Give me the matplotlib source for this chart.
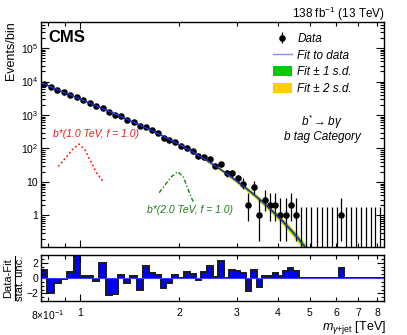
import numpy as np
import matplotlib
matplotlib.use("Agg")
import matplotlib.pyplot as plt
from matplotlib.lines import Line2D
from matplotlib.patches import Patch
from matplotlib.ticker import LogLocator, NullFormatter, MultipleLocator

plt.rcParams['font.family'] = ['Liberation Sans', 'DejaVu Sans']
plt.rcParams['mathtext.fontset'] = 'custom'
plt.rcParams['mathtext.rm'] = 'Liberation Sans'
plt.rcParams['mathtext.it'] = 'Liberation Sans:italic'
plt.rcParams['mathtext.bf'] = 'Liberation Sans:bold'

# bin edges in TeV
edges = [0.760, 0.796, 0.834, 0.873, 0.914, 0.957, 1.001, 1.047, 1.095, 1.145,
         1.197, 1.250, 1.306, 1.364, 1.424, 1.486, 1.550, 1.617, 1.686, 1.758,
         1.832, 1.909, 1.989, 2.072, 2.157, 2.245, 2.337, 2.432, 2.530, 2.631,
         2.736, 2.844, 2.956, 3.072, 3.191, 3.315, 3.442, 3.574, 3.710, 3.850,
         3.995, 4.144, 4.298, 4.457, 4.621, 4.790, 4.965, 5.145, 5.330, 5.521,
         5.718, 5.921, 6.130, 6.345, 6.567, 6.795, 7.030, 7.272, 7.521, 7.777,
         8.041, 8.312, 8.591]

# events per bin
counts = [8441, 6772, 5712, 4775, 4020, 3462, 2751, 2280, 1866, 1644,
          1226, 1015, 910, 723, 618, 471, 450, 356, 288, 209,
          177, 156, 122, 105, 83, 61, 55, 49, 31, 34,
          18, 18, 13, 9, 2, 7, 1, 3, 2, 2,
          1, 1, 2, 1, 0, 0, 0, 0, 0, 0,
          0, 0, 1, 0, 0, 0, 0, 0, 0, 0,
          0, 0]

# (data-fit)/stat. unc.
pulls = [1.0, -1.9, -0.7, -0.15, 0.8, 3.0, 0.3, 0.2, -0.45, 2.0,
         -2.2, -2.1, 0.4, -0.7, 0.2, -1.55, 1.6, 0.7, 0.4, -1.3,
         -0.7, 0.4, 0.0, 0.75, 0.5, -0.2, 0.8, 1.6, 0.1, 2.2,
         0.0, 1.1, 0.9, 0.6, -1.7, 1.0, -1.2, 0.3, 0.3, 0.6,
         0.3, 0.9, 1.3, 0.9, 0, 0, 0, 0, 0, 0,
         0, 0, 1.3, 0, 0, 0, 0, 0, 0, 0,
         0, 0]

# fit curve: value at lower edge, then at each bin centre
fit_vals = [9170, 8350, 6930, 5765, 4785, 3970, 3290, 2735, 2270, 1886,
            1565, 1305, 1084, 898, 742, 613, 506, 417, 343, 281,
            229, 187, 151, 122, 97.8, 78.3, 62.4, 49.3, 38.6, 30.1,
            23.3, 17.8, 13.5, 10.2, 7.67, 5.70, 4.22, 3.08, 2.23, 1.59,
            1.13, 0.791, 0.544, 0.369, 0.245, 0.160, 0.102, 0.064]
# relative 1 s.d. of the fit
fit_unc = [0.012, 0.011, 0.010, 0.010, 0.010, 0.010, 0.010, 0.010, 0.011, 0.012,
           0.013, 0.014, 0.015, 0.016, 0.018, 0.019, 0.021, 0.023, 0.025, 0.027,
           0.029, 0.031, 0.034, 0.036, 0.039, 0.042, 0.045, 0.048, 0.051, 0.055,
           0.058, 0.062, 0.066, 0.070, 0.074, 0.079, 0.084, 0.089, 0.094, 0.100,
           0.106, 0.112, 0.119, 0.126, 0.133, 0.141, 0.150, 0.160]

sig1_mass = [0.859, 0.911, 0.944, 0.993, 1.036, 1.073, 1.124, 1.177]
sig1_vals = [29, 57, 90, 136, 90, 45, 18.6, 10.2]
sig2_mass = [1.741, 1.812, 1.898, 1.981, 2.060, 2.117, 2.183, 2.210]
sig2_vals = [4.8, 8.1, 14.4, 20.3, 14.4, 7.2, 3.3, 2.6]

# 68% Poisson intervals for small counts (low, high)
garwood = {0: (0.0, 1.841), 1: (0.827, 2.299), 2: (1.292, 2.637), 3: (1.633, 2.918),
           4: (1.914, 3.162), 5: (2.159, 3.382), 6: (2.380, 3.583), 7: (2.581, 3.770),
           8: (2.768, 3.944), 9: (2.943, 4.110), 10: (3.108, 4.266)}

W, H = 407., 335.
def fx(x): return x / W
def fy(y): return 1 - y / H

edges = np.array(edges)
centers = 0.5 * (edges[:-1] + edges[1:])
counts = np.array(counts, dtype=float)
lo = np.array([garwood[int(n)][0] if n in garwood else np.sqrt(n) for n in counts])
hi = np.array([garwood[int(n)][1] if n in garwood else np.sqrt(n) for n in counts])

fig = plt.figure(figsize=(4.07, 3.35), dpi=100)
fig.patch.set_facecolor('white')
ax = fig.add_axes([fx(40.8), fy(246.7), (384 - 40.8) / W, (246.7 - 21.7) / H])
rax = fig.add_axes([fx(40.8), fy(301), (384 - 40.8) / W, (301 - 255) / H])

fit = np.array(fit_vals)
unc = np.array(fit_unc)
fit_x = np.concatenate([[edges[0]], centers[:len(fit) - 1]])
ax.fill_between(fit_x, fit * (1 - 2 * unc), fit * (1 + 2 * unc), color='#ffcc00', lw=0, zorder=1)
ax.fill_between(fit_x, fit * (1 - unc), fit * (1 + unc), color='#00cc00', lw=0, zorder=2)
ax.plot(fit_x, fit, color='#1c2fd8', lw=1.0, zorder=6)

nz = counts > 0
hdata = ax.errorbar(centers[nz], counts[nz], yerr=[lo[nz], hi[nz]], fmt='o', ms=3.7,
                    color='black', elinewidth=0.9, capsize=0, zorder=5)
ax.vlines(centers[~nz], 1e-3, hi[~nz], color='black', lw=0.9, zorder=5)

ax.plot(sig1_mass, sig1_vals, color='#ff1010', ls=(0, (1.2, 1.6)), lw=1.1, zorder=4)
ax.plot(sig2_mass, sig2_vals, color='#118811', ls=(0, (3, 1.5, 1, 1.5)), lw=1.0, zorder=4)

# ratio panel
pulls = np.array(pulls)
rax.fill_between(edges, np.append(pulls, pulls[-1]), 0, step='post', color='#0000ff', lw=0)
rax.axhline(0, color='#3344ff', lw=0.8)
rax.stairs(pulls, edges, baseline=None, color='#1a1a1a', lw=1.4)

minor_x = [0.8, 0.9, 2, 3, 4, 5, 6, 7, 8]
for a in (ax, rax):
    a.set_xscale('log')
    a.set_xlim(0.76, 8.4)
    a.set_xticks([1])
    a.set_xticks(minor_x, minor=True)
    a.tick_params(which='both', direction='in', top=True, right=True, width=0.8)
    a.tick_params(which='major', length=5)
    a.tick_params(which='minor', length=3)
    for s in a.spines.values():
        s.set_linewidth(1.0)

ax.set_xticklabels([])
ax.set_xticklabels([], minor=True)
rax.set_xticklabels(['1'])
rax.set_xticklabels(['$8{\\times}10^{-1}$', '', '2', '3', '4', '5', '6', '7', '8'], minor=True)
rax.tick_params(axis='x', which='both', labelsize=7.5, pad=5)

ax.set_yscale('log')
ax.set_ylim(0.117, 6.1e5)
ax.set_yticks([1, 10, 100, 1e3, 1e4, 1e5], ['1', '10', '$10^{2}$', '$10^{3}$', '$10^{4}$', '$10^{5}$'])
ax.yaxis.set_minor_locator(LogLocator(base=10, subs=np.arange(2, 10), numticks=20))
ax.yaxis.set_minor_formatter(NullFormatter())
ax.tick_params(axis='y', which='major', length=6, labelsize=7.5, pad=2)

rax.set_ylim(-3, 3)
rax.set_yticks([-2, 0, 2])
rax.yaxis.set_minor_locator(MultipleLocator(0.5))
rax.tick_params(axis='y', which='major', length=5, labelsize=7.5, pad=2)
rax.tick_params(axis='y', which='minor', length=2.5)

# legend
handles = [hdata,
           Line2D([], [], color='#8c8cf0', lw=1.0),
           Patch(facecolor='#00cc00', edgecolor='none'),
           Patch(facecolor='#ffcc00', edgecolor='none')]
labels = ['Data', 'Fit to data', 'Fit \u00b1 1 s.d.', 'Fit \u00b1 2 s.d.']
ax.legend(handles, labels, loc='upper left', bbox_to_anchor=((273 - 40.8) / 343.2, (246.7 - 33) / 225),
          frameon=False, borderpad=0, borderaxespad=0, handlelength=1.6, handleheight=0.9,
          handletextpad=0.45, labelspacing=0.4, prop=dict(style='italic', size=8.5))

# texts
fig.text(fx(48), fy(41.7), 'CMS', fontsize=12, weight='bold', va='baseline')
fig.text(fx(385), fy(18), '138 fb$^{-1}$ (13 TeV)', fontsize=8.5, ha='right', va='baseline')
fig.text(fx(322), fy(126), r'$b^{*} \rightarrow b\gamma$', fontsize=8.5, ha='center', va='baseline')
fig.text(fx(322.5), fy(140), 'b tag Category', fontsize=8.5, style='italic', ha='center', va='baseline')
fig.text(fx(53), fy(136.5), 'b*(1.0 TeV, f = 1.0)', fontsize=7.5, style='italic', color='#e02020', va='baseline')
fig.text(fx(147), fy(213), 'b*(2.0 TeV, f = 1.0)', fontsize=7.5, style='italic', color='#1f7a1f', va='baseline')

fig.text(fx(11), fy(21), 'Events/bin', fontsize=9, rotation=90, ha='center', va='top')
fig.text(fx(8.5), fy(278), 'Data-Fit', fontsize=8, rotation=90, ha='center', va='center')
fig.text(fx(20), fy(278), 'stat. unc.', fontsize=8, rotation=90, ha='center', va='center')
fig.add_artist(Line2D([fx(14.5), fx(14.5)], [fy(256), fy(300)], color='black', lw=0.8))
fig.text(fx(386), fy(330), r'$m_{\gamma\mathrm{+jet}}$ [TeV]', fontsize=9, ha='right', va='baseline')

fig.savefig('out.png', dpi=100)
